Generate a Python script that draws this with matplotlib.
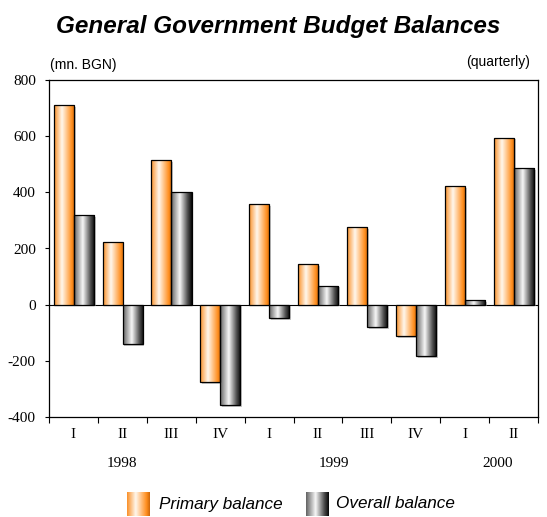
import numpy as np
import matplotlib
matplotlib.use("Agg")
import matplotlib.pyplot as plt
from matplotlib.colors import LinearSegmentedColormap
from matplotlib import patheffects as pe

# ---- data ----
quarters = ["I", "II", "III", "IV", "I", "II", "III", "IV", "I", "II"]
years = ["1998", "1999", "2000"]
year_pos = [1.0, 5.33, 8.68]
primary = [710, 224, 515, -276, 357, 144, 276, -111, 423, 595]
overall = [320, -141, 400, -357, -47, 68, -80, -183, 15, 485]
yticks = [-400, -200, 0, 200, 400, 600, 800]

SERIF = "Liberation Serif"
SANS = "Liberation Sans"

orange_cmap = LinearSegmentedColormap.from_list(
    "org", [(0.0, (0.98, 0.56, 0.15)), (0.38, (1.0, 0.97, 0.93)),
            (0.85, (1.0, 0.56, 0.12)), (1.0, (0.80, 0.40, 0.04))])
gray_cmap = LinearSegmentedColormap.from_list(
    "gry", [(0.0, (0.38, 0.38, 0.38)), (0.42, (0.97, 0.97, 0.97)),
            (0.80, (0.30, 0.30, 0.30)), (1.0, (0.02, 0.02, 0.02))])

grad = np.linspace(0, 1, 256)[None, :]

fig = plt.figure(figsize=(5.47, 5.17), dpi=100)
ax = fig.add_axes([49 / 547, 100 / 517, 489 / 547, 337 / 517])

x = np.arange(len(quarters))
w = 0.41
ax.axhline(0, color="black", lw=0.8, zorder=1)


def gradient_bars(xpos, vals, cmap):
    # shadow layer
    ax.bar(xpos, vals, width=w, facecolor="none", edgecolor="none", zorder=1.5,
           path_effects=[pe.SimplePatchShadow(offset=(1.3, -1.3),
                                              shadow_rgbFace="0.55", alpha=0.5)])
    bars = ax.bar(xpos, vals, width=w, facecolor="none", edgecolor="black",
                  lw=0.9, zorder=3)
    for r in bars:
        x0, y0 = r.get_x(), r.get_y()
        x1, y1 = x0 + r.get_width(), y0 + r.get_height()
        im = ax.imshow(cmap(grad), extent=(x0, x1, min(y0, y1), max(y0, y1)),
                       aspect="auto", interpolation="bilinear", zorder=2)
        im.set_clip_path(r)


gradient_bars(x - 0.2, primary, orange_cmap)
gradient_bars(x + 0.21, overall, gray_cmap)

ax.set_xlim(-0.5, len(quarters) - 0.5)
ax.set_ylim(-400, 800)
ax.set_yticks(yticks)
ax.set_yticklabels([str(v) for v in yticks], fontfamily=SERIF, fontsize=11)
ax.tick_params(axis="y", direction="out", length=3, width=0.8, pad=6.5)

ax.set_xticks(np.arange(-0.5, len(quarters), 1.0))
ax.set_xticks(x, minor=True)
ax.set_xticklabels(quarters, minor=True, fontfamily=SERIF, fontsize=11)
ax.tick_params(axis="x", which="major", direction="out", length=4.5, width=0.8,
               labelbottom=False)
ax.tick_params(axis="x", which="minor", length=0, pad=8)

for s in ax.spines.values():
    s.set_linewidth(0.9)
    s.set_color("black")

for yr, xp in zip(years, year_pos):
    ax.annotate(yr, xy=(xp, 0), xycoords=("data", "axes fraction"),
                xytext=(0, -33.5), textcoords="offset points",
                ha="center", va="center", fontfamily=SERIF, fontsize=11)

fig.text(278 / 547, 1 - 33 / 517, "General Government Budget Balances",
         ha="center", va="baseline", fontsize=17.5, fontweight="bold",
         fontstyle="italic", fontfamily=SANS)
fig.text(50 / 547, 1 - 65 / 517, "(mn. BGN)", ha="left", va="center",
         fontsize=10, fontfamily=SANS)
fig.text(530 / 547, 1 - 62 / 517, "(quarterly)", ha="right", va="center",
         fontsize=10, fontfamily=SANS)

# legend
for lx, cmap, label, tx in [(127, orange_cmap, "Primary balance", 159),
                            (306, gray_cmap, "Overall balance", 336)]:
    lax = fig.add_axes([lx / 547, 1 - 516 / 517, 23 / 547, 24 / 517])
    lax.imshow(cmap(grad), aspect="auto", interpolation="bilinear")
    lax.set_axis_off()
    fig.text(tx / 547, 1 - 504 / 517, label, ha="left", va="center",
             fontsize=12.3, fontstyle="italic", fontfamily=SANS)

fig.savefig("out.png", dpi=100)
